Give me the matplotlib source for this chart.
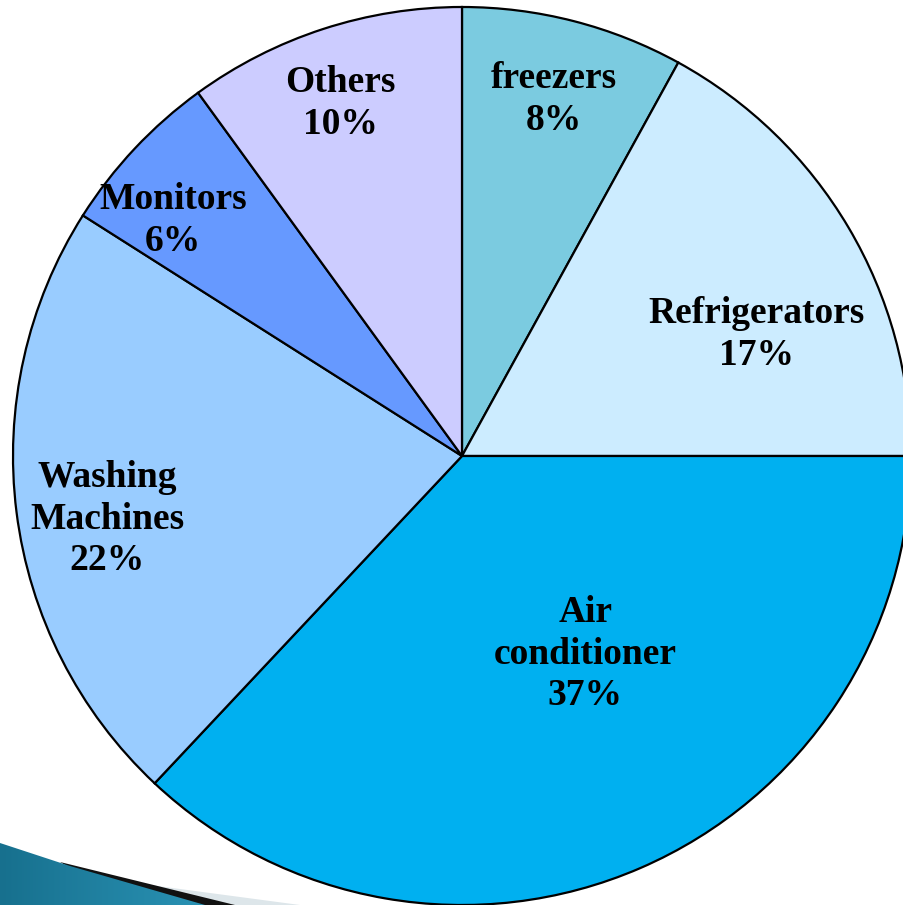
import matplotlib

matplotlib.use('agg')
import matplotlib.pyplot as plt
import numpy as np
from matplotlib.patches import Polygon

labels = ['freezers', 'Refrigerators', 'Air\nconditioner', 'Washing\nMachines', 'Monitors', 'Others']
shares = [8, 17, 37, 22, 6, 10]
colors = ['#7BCBE0', '#CCECFF', '#00B0F0', '#99CCFF', '#6699FF', '#CCCCFF']

# label placement: (fraction of radius, angle nudge in degrees from wedge middle)
label_pos = [(0.82, 0.0), (0.71, -8.2), (0.52, 8.5), (0.803, 2.9), (0.83, 4.0), (0.83, 1.0)]

W, H = 904, 905
cx, cy, R = 462, H - 456, 449

fig = plt.figure(figsize=(W / 100, H / 100), dpi=100)
ax = fig.add_axes([0, 0, 1, 1])

wedges, _ = ax.pie(shares, colors=colors, startangle=90, counterclock=False,
                   center=(cx, cy), radius=R, frame=True,
                   wedgeprops=dict(edgecolor='black', linewidth=1.6))

for w, lab, val, (f, nudge) in zip(wedges, labels, shares, label_pos):
    mid = np.deg2rad((w.theta1 + w.theta2) / 2 + nudge)
    x = cx + f * R * np.cos(mid)
    y = cy + f * R * np.sin(mid)
    ax.text(x, y, f'{lab}\n{val}%', ha='center', va='center', fontsize=27,
            fontweight='bold', family='Liberation Serif', linespacing=1.25, zorder=5)

# slide decoration in the bottom-left corner
ax.add_patch(Polygon([(150, H - 885), (300, H - 905), (190, H - 905)], closed=True,
                     facecolor='#DDE6EA', edgecolor='none', zorder=6))
ax.add_patch(Polygon([(60, H - 862), (235, H - 905), (200, H - 905), (70, H - 868)], closed=True,
                     facecolor='#111111', edgecolor='none', zorder=7))
band = Polygon([(0, H - 843), (70, H - 866), (205, H - 905), (0, H - 905)], closed=True,
               facecolor='none', edgecolor='none', zorder=8)
ax.add_patch(band)
grad = np.linspace(0, 1, 256).reshape(1, -1)
img = ax.imshow(grad, extent=(0, 210, 0, 70), cmap=matplotlib.colors.LinearSegmentedColormap.from_list(
    'deco', ['#17708E', '#2A93B5']), aspect='auto', zorder=8)
img.set_clip_path(band)

ax.set_xlim(0, W)
ax.set_ylim(0, H)
ax.axis('off')

fig.savefig('out.png', dpi=100)
